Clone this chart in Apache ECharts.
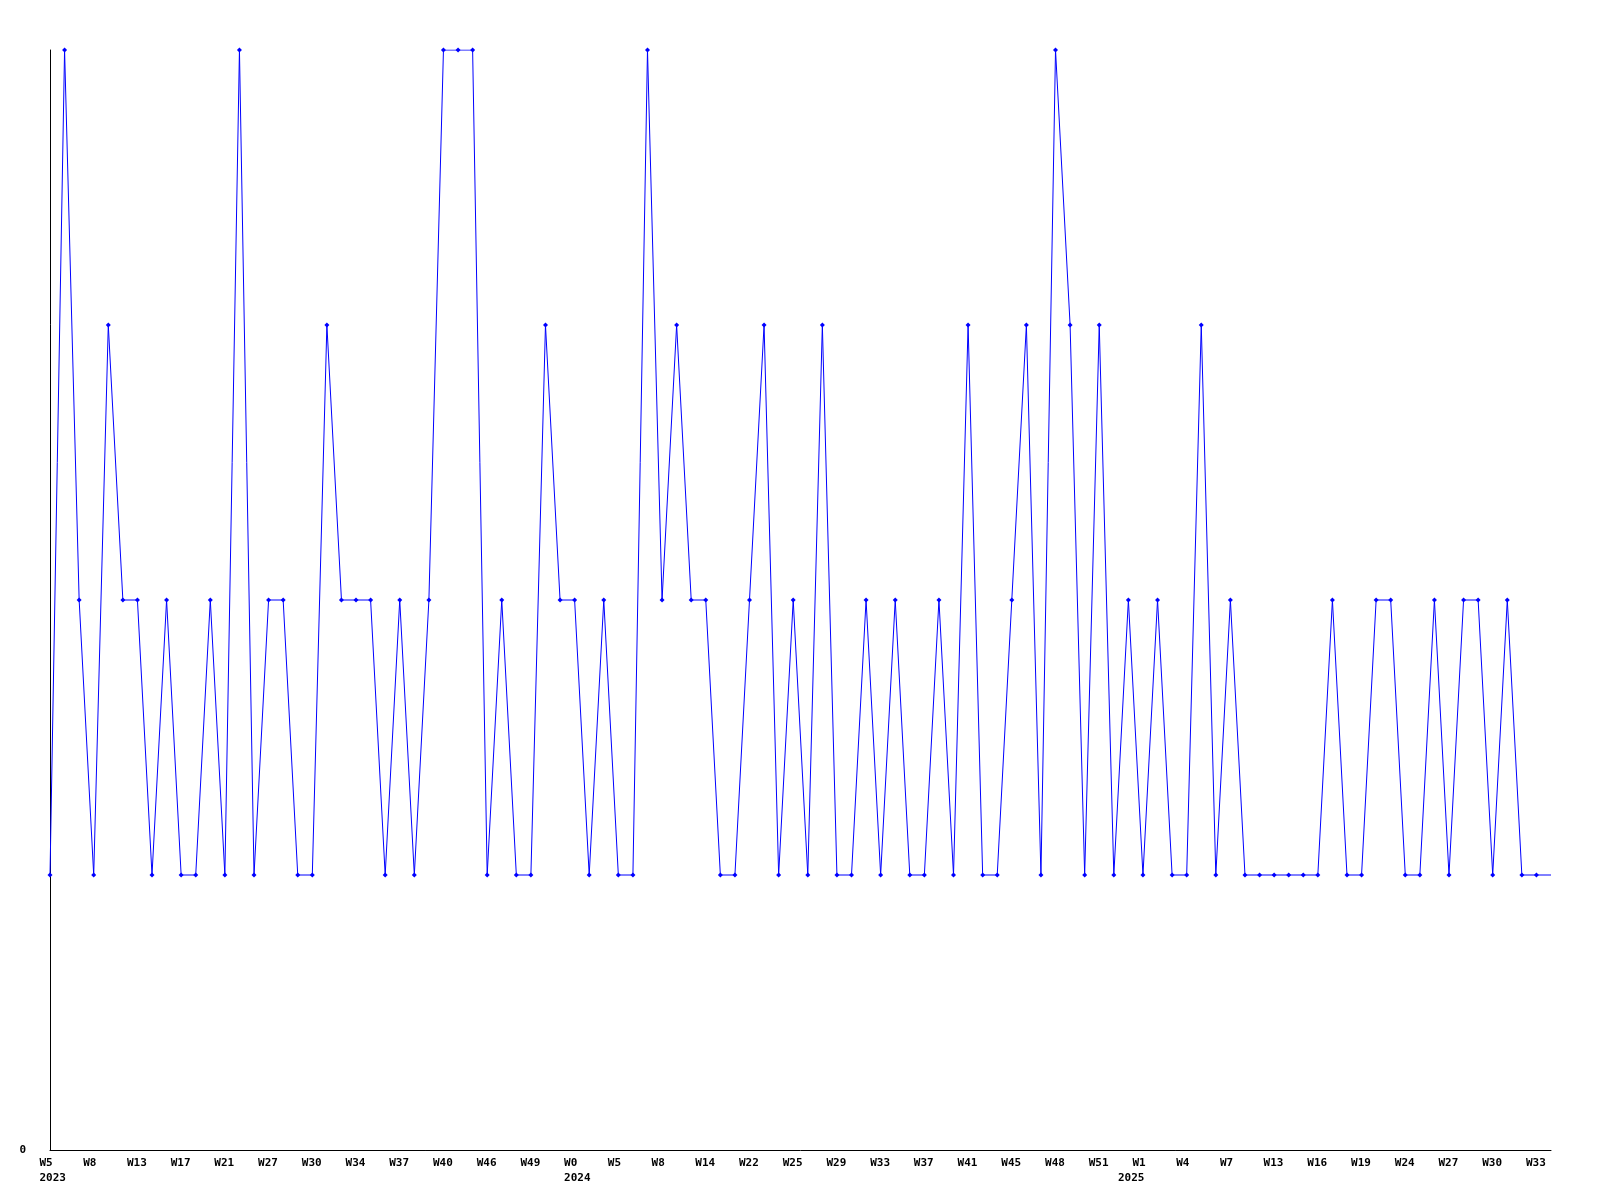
<!DOCTYPE html>
<html>
<head>
<meta charset="utf-8">
<script src="https://cdn.jsdelivr.net/npm/echarts@6/dist/echarts.min.js"></script>
<style>html,body{margin:0;padding:0;background:#fff}#c{width:1600px;height:1200px}</style>
</head>
<body>
<div id="c"></div>
<script>
// Category labels (year-week)
const categories = [
  "2023-W5","2023-W6","2023-W7","2023-W8","2023-W10","2023-W11","2023-W13","2023-W14","2023-W16","2023-W17",
  "2023-W18","2023-W20","2023-W21","2023-W23","2023-W25","2023-W27","2023-W28","2023-W29","2023-W30","2023-W31",
  "2023-W33","2023-W34","2023-W35","2023-W36","2023-W37","2023-W38","2023-W39","2023-W40","2023-W42","2023-W44",
  "2023-W46","2023-W47","2023-W48","2023-W49","2023-W50","2023-W51",
  "2024-W0","2024-W2","2024-W3","2024-W5","2024-W6","2024-W7","2024-W8","2024-W10","2024-W12","2024-W14",
  "2024-W17","2024-W19","2024-W22","2024-W23","2024-W24","2024-W25","2024-W26","2024-W27","2024-W29","2024-W31",
  "2024-W32","2024-W33","2024-W34","2024-W36","2024-W37","2024-W38","2024-W40","2024-W41","2024-W42","2024-W44",
  "2024-W45","2024-W46","2024-W47","2024-W48","2024-W49","2024-W50","2024-W51","2024-W52",
  "2025-W0","2025-W1","2025-W2","2025-W3","2025-W4","2025-W5","2025-W6","2025-W7","2025-W9","2025-W11",
  "2025-W13","2025-W14","2025-W15","2025-W16","2025-W17","2025-W18","2025-W19","2025-W21","2025-W22","2025-W24",
  "2025-W25","2025-W26","2025-W27","2025-W28","2025-W29","2025-W30","2025-W31","2025-W32","2025-W33","2025-W34"
];
// Series values per week
const counts = [
  1,4,2,1,3,2,2,1,2,1,
  1,2,1,4,1,2,2,1,1,3,
  2,2,2,1,2,1,2,4,4,4,
  1,2,1,1,3,2,2,1,2,1,
  1,4,2,3,2,2,1,1,2,3,
  1,2,1,3,1,1,2,1,2,1,
  1,2,1,3,1,1,2,3,1,4,
  3,1,3,1,2,1,2,1,1,3,
  1,2,1,1,1,1,1,1,2,1,
  1,2,2,1,1,2,1,2,2,1,
  2,1,1,1
];
const yTickLabels = ["0"];

const labelFont = { fontFamily: "DejaVu Sans Mono", fontWeight: "bold", fontSize: 11, color: "#000" };

const yearStart = {};
categories.forEach((c, i) => { const y = c.split("-")[0]; if (!(y in yearStart)) yearStart[y] = i; });
const yearIdx = new Set(Object.values(yearStart));

const seriesData = counts.map((v, i) => i === counts.length - 1 ? { value: v, symbol: "none" } : v);

const chart = echarts.init(document.getElementById("c"), null, { renderer: "canvas" });
chart.setOption({
  animation: false,
  backgroundColor: "#fff",
  grid: [
    { left: 50, right: 49, top: 50, bottom: 50 },
    { left: 39.5, right: 59.5, top: 50, bottom: 50 }
  ],
  xAxis: [
    {
      type: "category", gridIndex: 0, data: categories, boundaryGap: false,
      axisLine: { show: true, lineStyle: { color: "#000", width: 1 } },
      axisTick: { show: false }, axisLabel: { show: false }, splitLine: { show: false }
    },
    {
      type: "category", gridIndex: 1, data: categories, boundaryGap: false,
      axisLine: { show: false }, axisTick: { show: false }, splitLine: { show: false },
      axisLabel: {
        show: true, align: "left", margin: 6, lineHeight: 15, ...labelFont,
        interval: (i) => i % 3 === 0 || yearIdx.has(i),
        formatter: (val, i) => {
          const [yr, wk] = val.split("-");
          const top = i % 3 === 0 ? wk : "";
          return yearIdx.has(i) ? top + "\n" + yr : top;
        }
      }
    }
  ],
  yAxis: [
    {
      type: "value", gridIndex: 0, min: 0, max: 4, interval: 1,
      axisLine: { show: true, lineStyle: { color: "#000", width: 1 } },
      axisTick: { show: false }, splitLine: { show: false },
      axisLabel: { margin: 24, ...labelFont, formatter: (v) => yTickLabels[v] !== undefined ? yTickLabels[v] : "" }
    },
    { type: "value", gridIndex: 1, min: 0, max: 4, show: false }
  ],
  series: [{
    type: "line", xAxisIndex: 0, yAxisIndex: 0, data: seriesData,
    symbol: "diamond", symbolSize: 5, showSymbol: true,
    lineStyle: { color: "#0000ff", width: 1 },
    itemStyle: { color: "#0000ff" },
    emphasis: { disabled: true }
  }]
});
</script>
</body>
</html>
